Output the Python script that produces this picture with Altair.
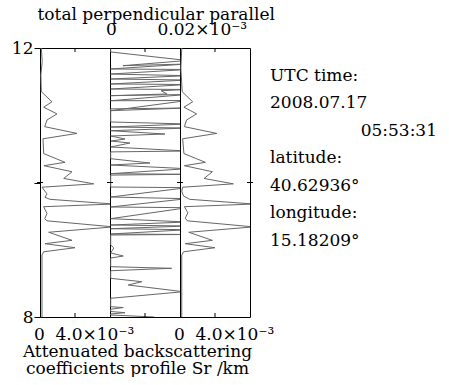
import altair as alt
import pandas as pd

# ---------------- data (values in units of 1e-3 Sr/km, altitude in km) ----------------
total_alt = [12.0, 11.8, 11.6, 11.35, 11.20, 11.12, 11.02, 10.93, 10.83, 10.73, 10.65, 10.43, 10.30, 10.25,
             10.16, 10.06, 9.98, 9.93, 9.83, 9.78, 9.75, 9.68, 9.64, 9.54, 9.46, 9.43, 9.34, 9.26, 9.14,
             9.09, 9.03, 8.97, 8.92, 8.0]
total_val = [0.15, 0.25, 0.10, 0.15, 1.37, 0.42, 1.94, 0.80, 0.54, 4.23, 0.34, 0.42, 2.86, 0.45,
             3.66, 2.71, 6.14, 0.23, 0.80, 0.57, 1.14, 8.4, 0.42, 0.80, 0.54, 0.80, 8.4, 0.99, 3.66,
             0.57, 4.0, 0.42, 0.23, 0.23]

par_alt = [12.0, 11.7, 11.35, 11.20, 11.12, 11.02, 10.93, 10.83, 10.73, 10.65, 10.43, 10.30, 10.25, 10.16,
           10.06, 9.98, 9.93, 9.87, 9.80, 9.75, 9.68, 9.64, 9.55, 9.47, 9.43, 9.34, 9.26, 9.14, 9.09,
           9.03, 8.97, 8.92, 8.0]
par_val = [0.2, 0.1, 0.25, 1.45, 0.45, 1.9, 0.75, 0.5, 4.2, 0.3, 0.45, 2.9, 0.5, 3.7,
           2.75, 6.1, 0.3, 0.2, 0.4, 1.1, 8.4, 0.5, 0.9, 0.6, 0.85, 8.4, 1.0, 3.7, 0.6,
           4.0, 0.4, 0.2, 0.2]

perp_alt = [11.985, 11.941, 11.814, 11.737, 11.762, 11.688, 11.680, 11.613, 11.588, 11.539, 11.524,
            11.465, 11.457, 11.390, 11.383, 11.365, 11.316, 11.291, 11.309, 11.216, 11.219, 11.068,
            11.108, 11.095, 10.900, 10.870, 10.825, 10.810, 10.770, 10.721, 10.691, 10.647, 10.617,
            10.587, 10.528, 10.468, 10.455, 10.354, 10.290, 10.260, 10.205, 10.131, 10.122, 10.110,
            9.933, 9.923, 9.784, 9.759, 9.636, 9.625, 9.462, 9.413, 9.368, 9.353, 9.313, 9.298,
            9.234, 9.227, 9.219, 9.071, 9.026, 8.952, 8.907, 8.877, 8.748, 8.724, 8.688, 8.575,
            8.525, 8.476, 8.376, 8.278, 8.153, 8.141, 8.115, 8.082, 8.064, 8.045, 8.030, 8.000]
perp_val = [0.0002, 0.0002, 0.022, 0.0037, 0.022, 0.0002, 0.022, 0.0002, 0.022, 0.0002, 0.022,
            0.0002, 0.022, 0.0002, 0.022, 0.0146, 0.0163, 0.0002, 0.022, 0.0002, 0.022, 0.0002,
            0.022, 0.0002, 0.0002, 0.022, 0.0002, 0.022, 0.0002, 0.0157, 0.0002, 0.0043, 0.0003,
            0.0057, 0.0002, 0.022, 0.0002, 0.0002, 0.0114, 0.0002, 0.022, 0.0002, 0.022, 0.0002,
            0.0002, 0.022, 0.0002, 0.022, 0.0002, 0.022, 0.0002, 0.022, 0.0002, 0.022, 0.0002, 0.022,
            0.0002, 0.022, 0.0002, 0.0002, 0.0011, 0.0002, 0.0038, 0.0002, 0.0002, 0.0176, 0.0002, 0.0002,
            0.0091, 0.0052, 0.0209, 0.0002, 0.0002, 0.0038, 0.0002, 0.0002, 0.0043, 0.0002, 0.0002, 0.0126]

info_text = ["UTC time:", "2008.07.17", "05:53:31", "latitude:", "40.62936°", "longitude:", "15.18209°"]
info_align = ["left", "left", "right", "left", "left", "left", "left"]

panel_titles = "total perpendicular parallel"
xtitle = ["Attenuated backscattering", "coefficients profile Sr /km"]

# ---------------- styling ----------------
W, H = 70, 269
FONT = "DejaVu Serif"
FS = 17
LINE = "#666666"

ys = alt.Scale(domain=[8, 12], nice=False, zero=False)


def panel(alts, vals, dom, bottom_axis, top_axis=None, yaxis=None):
    df = pd.DataFrame({"alt": alts, "val": vals, "i": list(range(len(alts)))})
    xs = alt.Scale(domain=dom, nice=False, zero=False)
    yax = yaxis if yaxis is not None else None
    base = alt.Chart(df)
    line = base.mark_line(color=LINE, strokeWidth=1, clip=True).encode(
        x=alt.X("val:Q", scale=xs, axis=bottom_axis),
        y=alt.Y("alt:Q", scale=ys, axis=yax),
        order="i:Q",
    )
    layers = [line]
    if top_axis is not None:
        layers.append(
            alt.Chart(pd.DataFrame({"v": [dom[0]]})).mark_point(opacity=0).encode(
                x=alt.X("v:Q", scale=xs, axis=top_axis)
            )
        )
    mid = pd.DataFrame({"v": [(dom[0] + dom[1]) / 2]})
    layers.append(alt.Chart(mid).mark_rule(color="black").encode(
        x=alt.X("v:Q", scale=xs, axis=None), y=alt.value(0), y2=alt.value(4)))
    layers.append(alt.Chart(mid).mark_rule(color="black").encode(
        x=alt.X("v:Q", scale=xs, axis=None), y=alt.value(H - 4), y2=alt.value(H)))
    t10 = pd.DataFrame({"alt": [10.0]})
    layers.append(alt.Chart(t10).mark_rule(color="black").encode(
        y=alt.Y("alt:Q", scale=ys, axis=yax), x=alt.value(-3), x2=alt.value(3)))
    layers.append(alt.Chart(t10).mark_rule(color="black").encode(
        y=alt.Y("alt:Q", scale=ys, axis=yax), x=alt.value(W - 3), x2=alt.value(W + 3)))
    return alt.layer(*layers).resolve_axis(x="independent").properties(width=W, height=H)


def value_axis(orient, values, expr, off):
    return alt.Axis(
        orient=orient, values=values, labelExpr=expr, ticks=False, domain=False, grid=False,
        labelFont=FONT, labelFontSize=FS, labelColor="black", labelPadding=9,
        labelAlign={"condition": {"test": "datum.value == 0", "value": "center"}, "value": "left"},
        labelOffset={"condition": {"test": "datum.value == 0", "value": -1}, "value": -20},
        labelFlush=False, labelOverlap=False,
        title=None,
    )


yaxis = alt.Axis(values=[8, 10, 12], labelExpr="datum.value == 10 ? '' : datum.label",
                 tickSize=6, tickColor="black", domain=False, grid=False, labelFont=FONT,
                 labelFontSize=FS, labelColor="black", labelPadding=1, title=None,
                 labelFlush=False, labelOverlap=False)

p_total = panel(total_alt, total_val, [0, 8],
                value_axis("bottom", [0, 4], "datum.value == 0 ? '0' : '4.0×10⁻³'", -20),
                yaxis=yaxis)

perp_bottom = alt.Axis(orient="bottom", labels=False, ticks=False, domain=False, grid=False,
                       title=xtitle, titleFont=FONT, titleFontSize=FS, titleFontWeight="normal",
                       titleColor="black", titleX=27, titleY=26, titleBaseline="top",
                       titleLineHeight=17, titleAlign="center")
perp_top = alt.Axis(orient="top", values=[0, 0.02], labelExpr="datum.value == 0 ? '0' : '0.02×10⁻³'",
                    ticks=False, domain=False, grid=False, labelFont=FONT, labelFontSize=FS,
                    labelColor="black", labelPadding=10, labelFlush=False, labelOverlap=False,
                    labelAlign={"condition": {"test": "datum.value == 0", "value": "center"}, "value": "left"},
                    labelOffset={"condition": {"test": "datum.value == 0", "value": 1}, "value": -23},
                    title=panel_titles, titleFont=FONT, titleFontSize=FS, titleFontWeight="normal",
                    titleColor="black", titleX=-73, titleY=-29, titleAlign="left",
                    titleBaseline="alphabetic")
p_perp = panel(perp_alt, perp_val, [0, 0.02], perp_bottom, top_axis=perp_top)

p_par = panel(par_alt, par_val, [0, 8],
              value_axis("bottom", [0, 4], "datum.value == 0 ? '0' : '4.0×10⁻³'", -20))

info = pd.DataFrame({"t": info_text, "al": info_align, "i": list(range(len(info_text)))})
iy = alt.Y("i:Q", scale=alt.Scale(domain=[8.78, -1], nice=False, zero=False), axis=None)
info_base = alt.Chart(info)
info_left = info_base.transform_filter("datum.al == 'left'").mark_text(
    font=FONT, fontSize=FS, align="left", baseline="middle", color="black").encode(
    y=iy, x=alt.value(20), text="t:N")
info_right = info_base.transform_filter("datum.al == 'right'").mark_text(
    font=FONT, fontSize=FS, align="right", baseline="middle", color="black").encode(
    y=iy, x=alt.value(187), text="t:N")
p_info = alt.layer(info_left, info_right).properties(width=190, height=H,
                                                    view=alt.ViewBackground(stroke="transparent"))

chart = alt.hconcat(p_total, p_perp, p_par, p_info, spacing=0, bounds="flush").properties(
    padding={"left": 10, "top": 4, "right": 0, "bottom": 0},
    background="white",
).configure_view(stroke="black", strokeWidth=1)

chart.save("out.html", embed_options={"renderer": "svg", "actions": False})
